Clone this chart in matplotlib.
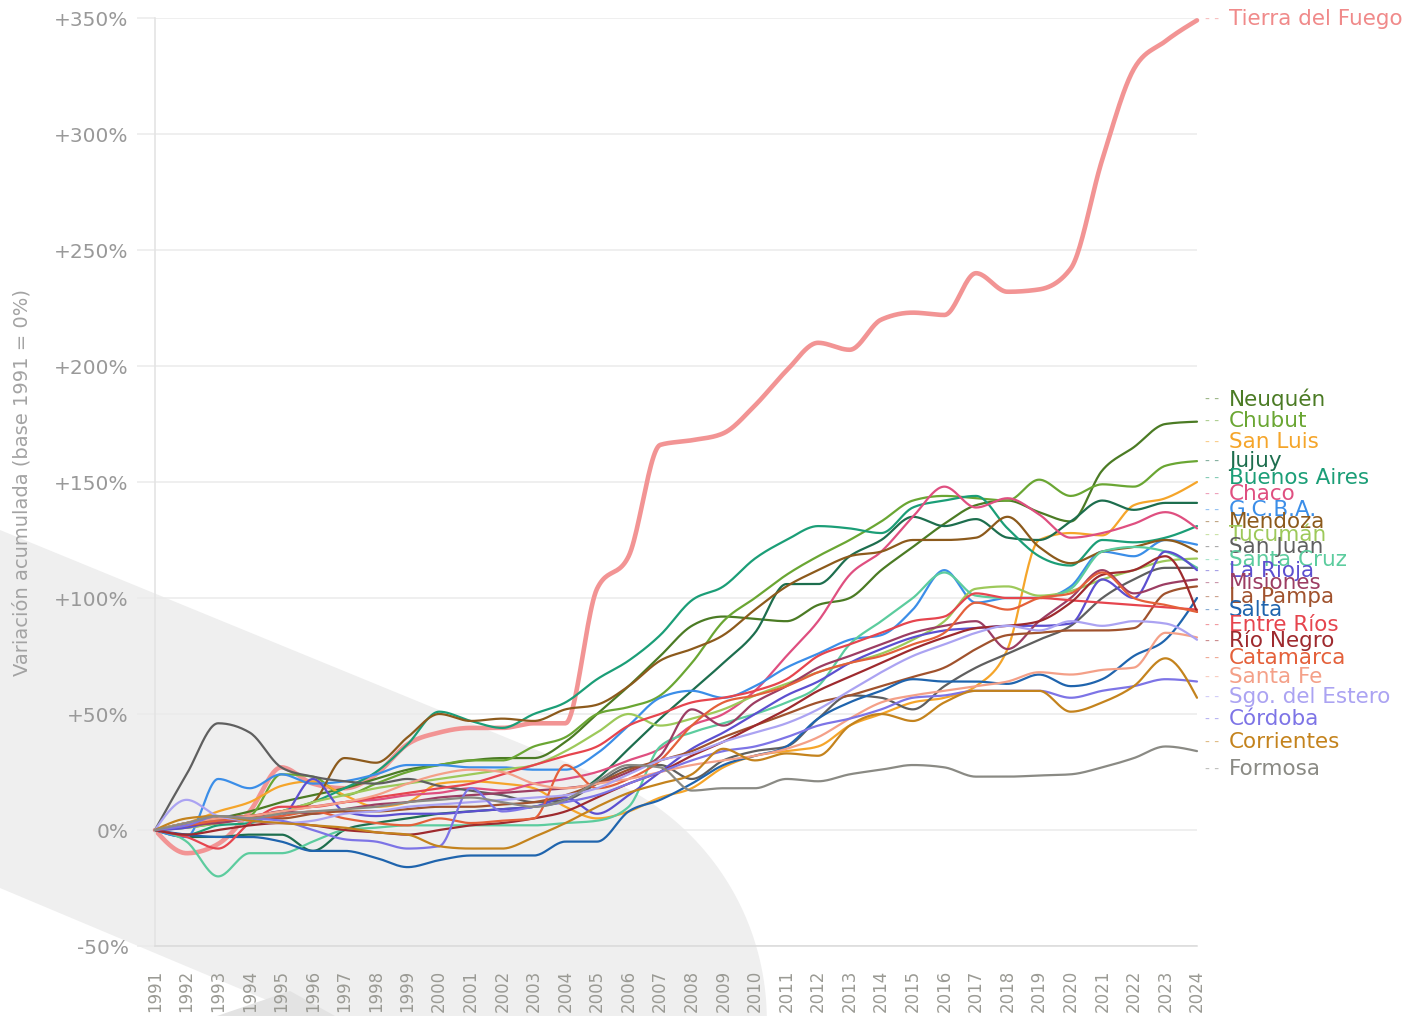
import numpy as np
import matplotlib.pyplot as plt
from matplotlib.patches import Polygon
from matplotlib.transforms import blended_transform_factory

years = list(range(1991, 2025))

# cumulative variation (%), base 1991 = 0
tierra_del_fuego = [0, -10, -6, 8, 27, 20, 18, 24, 37, 42, 44, 44, 46, 46, 104, 118, 166,
                    168, 171, 183, 198, 210, 207, 220, 223, 222, 240, 232, 233, 242, 289, 328, 340, 349]
neuquen = [0, 3, 5, 8, 12, 15, 18, 22, 26, 28, 30, 31, 31, 38, 50, 62, 75,
           88, 92, 91, 90, 97, 100, 112, 122, 132, 140, 142, 137, 133, 155, 165, 175, 176]
chubut = [0, 1, 3, 6, 24, 23, 15, 20, 25, 28, 30, 30, 36, 40, 50, 53, 58,
          72, 90, 100, 110, 118, 125, 133, 142, 144, 143, 142, 151, 144, 149, 148, 157, 159]
san_luis = [0, 3, 8, 12, 19, 21, 15, 10, 12, 20, 21, 20, 18, 10, 5, 8, 14,
            18, 27, 32, 34, 36, 45, 50, 55, 57, 62, 78, 125, 128, 127, 140, 143, 150]
jujuy = [0, -3, -3, -2, -2, -9, 0, 3, 5, 7, 8, 9, 10, 13, 22, 35, 48,
         60, 72, 85, 106, 106, 118, 125, 135, 131, 134, 126, 125, 133, 142, 138, 141, 141]
buenos_aires = [0, -2, 2, 3, 8, 12, 18, 25, 37, 51, 47, 44, 50, 55, 65, 73, 84,
                99, 105, 117, 125, 131, 130, 128, 139, 142, 144, 130, 118, 114, 125, 124, 126, 131]
chaco = [0, 2, 4, 6, 8, 10, 12, 13, 15, 16, 18, 17, 20, 22, 25, 30, 35,
         45, 50, 60, 75, 90, 110, 120, 135, 148, 139, 143, 136, 126, 128, 132, 137, 130]
gcba = [0, -3, 22, 18, 24, 20, 21, 24, 28, 28, 27, 27, 26, 26, 33, 45, 57,
        60, 57, 62, 70, 76, 82, 84, 95, 112, 98, 100, 100, 105, 120, 118, 125, 123]
mendoza = [0, 2, 5, 6, 8, 12, 31, 29, 40, 50, 47, 48, 47, 52, 54, 62, 73,
           78, 84, 95, 105, 112, 118, 120, 125, 125, 126, 135, 122, 115, 120, 122, 125, 120]
tucuman = [0, 1, 3, 5, 8, 12, 15, 18, 20, 22, 24, 26, 28, 34, 42, 50, 45,
           48, 52, 58, 63, 68, 72, 76, 82, 90, 104, 105, 101, 103, 108, 112, 116, 117]
san_juan = [0, 24, 46, 42, 27, 23, 21, 20, 22, 19, 17, 15, 12, 13, 20, 27, 28,
            22, 30, 34, 36, 48, 58, 57, 52, 62, 70, 76, 82, 88, 100, 108, 113, 113]
santa_cruz = [0, -5, -20, -10, -10, -5, 0, 1, 2, 2, 2, 2, 2, 3, 4, 10, 36,
              42, 46, 50, 55, 62, 80, 90, 100, 111, 101, 100, 100, 104, 120, 122, 120, 113]
la_rioja = [0, 1, 4, 5, 6, 22, 8, 6, 7, 7, 8, 9, 10, 14, 7, 15, 25,
            35, 42, 50, 58, 64, 72, 78, 83, 86, 87, 88, 88, 89, 108, 100, 120, 112]
misiones = [0, 2, 3, 5, 8, 7, 9, 11, 12, 14, 15, 16, 17, 18, 20, 25, 32,
            52, 45, 55, 62, 70, 75, 80, 85, 88, 90, 78, 90, 100, 112, 102, 106, 108]
la_pampa = [0, 3, 5, 6, 5, 7, 8, 8, 9, 10, 10, 11, 12, 15, 20, 26, 30,
            34, 40, 45, 50, 55, 58, 62, 66, 70, 78, 84, 85, 86, 86, 87, 102, 105]
salta = [0, -2, -3, -3, -5, -9, -9, -12, -16, -13, -11, -11, -11, -5, -5, 8, 13,
         20, 28, 32, 36, 48, 55, 60, 65, 64, 64, 63, 67, 62, 65, 75, 82, 100]
entre_rios = [0, -3, -8, 3, 10, 10, 12, 14, 16, 18, 20, 24, 28, 32, 36, 45, 50,
              55, 57, 60, 65, 75, 80, 85, 90, 92, 102, 100, 100, 99, 98, 97, 96, 95]
rio_negro = [0, -2, 0, 2, 3, 2, 0, -1, -2, 0, 2, 3, 5, 8, 14, 20, 25,
             32, 38, 45, 52, 60, 66, 72, 78, 83, 87, 88, 90, 98, 110, 112, 118, 94]
catamarca = [0, 2, 4, 5, 6, 8, 5, 3, 2, 5, 3, 4, 5, 28, 18, 22, 30,
             45, 55, 58, 62, 68, 72, 75, 80, 85, 98, 95, 100, 102, 111, 100, 97, 94]
santa_fe = [0, 3, 5, 6, 8, 10, 12, 15, 20, 24, 26, 25, 20, 18, 20, 22, 25,
            28, 30, 32, 35, 40, 48, 55, 58, 60, 62, 64, 68, 67, 69, 70, 85, 83]
sgo_del_estero = [0, 13, 6, 4, 3, 4, 7, 8, 10, 11, 12, 13, 14, 15, 18, 24, 30,
                  33, 38, 42, 46, 52, 60, 68, 75, 80, 85, 88, 86, 90, 88, 90, 89, 82]
cordoba = [0, 2, 6, 5, 4, 0, -4, -5, -8, -7, 18, 8, 10, 12, 15, 20, 25,
           30, 34, 36, 40, 45, 48, 52, 57, 58, 60, 60, 60, 57, 60, 62, 65, 64]
corrientes = [0, 5, 6, 4, 3, 2, 1, -1, -2, -7, -8, -8, -3, 3, 10, 16, 20,
              24, 35, 30, 33, 32, 45, 50, 47, 55, 60, 60, 60, 51, 55, 62, 74, 57]
formosa = [0, 3, 6, 5, 7, 8, 9, 10, 12, 13, 14, 12, 10, 13, 21, 28, 27,
           17, 18, 18, 22, 21, 24, 26, 28, 27, 23, 23, 23.5, 24, 27, 31, 36, 34]

series = [
    ("Neuquén", neuquen, "#4b7b24", 185.8),
    ("Chubut", chubut, "#6aa633", 176.3),
    ("San Luis", san_luis, "#f5a52a", 167.2),
    ("Jujuy", jujuy, "#1d6e4e", 159.0),
    ("Buenos Aires", buenos_aires, "#1b9e77", 151.7),
    ("Chaco", chaco, "#df4f80", 144.8),
    ("G.C.B.A.", gcba, "#3b8ee8", 137.9),
    ("Mendoza", mendoza, "#8c5a1c", 132.8),
    ("Tucumán", tucuman, "#9dc95a", 127.2),
    ("San Juan", san_juan, "#5f5f5f", 122.0),
    ("Santa Cruz", santa_cruz, "#5ccc9e", 116.4),
    ("La Rioja", la_rioja, "#5c4fd0", 111.6),
    ("Misiones", misiones, "#9c3d63", 106.5),
    ("La Pampa", la_pampa, "#a0522d", 100.4),
    ("Salta", salta, "#1f64ad", 94.8),
    ("Entre Ríos", entre_rios, "#e6454e", 88.4),
    ("Río Negro", rio_negro, "#9e2a2e", 81.5),
    ("Catamarca", catamarca, "#e4603a", 74.1),
    ("Santa Fe", santa_fe, "#f4a088", 65.9),
    ("Sgo. del Estero", sgo_del_estero, "#aba3f2", 57.3),
    ("Córdoba", cordoba, "#7d74e6", 47.8),
    ("Corrientes", corrientes, "#c4831d", 37.9),
    ("Formosa", formosa, "#8a8a84", 26.3),
]


def monotone_curve(x, y, n=24):
    # monotone cubic (d3 curveMonotoneX style)
    x = np.asarray(x, float)
    y = np.asarray(y, float)
    h = np.diff(x)
    s = np.diff(y) / h
    sg = lambda v: -1.0 if v < 0 else 1.0
    m = np.zeros_like(y)
    for i in range(1, len(y) - 1):
        p = (s[i - 1] * h[i] + s[i] * h[i - 1]) / (h[i - 1] + h[i])
        m[i] = (sg(s[i - 1]) + sg(s[i])) * min(abs(s[i - 1]), abs(s[i]), 0.5 * abs(p))
    m[0] = (3 * s[0] - m[1]) / 2
    m[-1] = (3 * s[-1] - m[-2]) / 2
    t = np.linspace(0, 1, n, endpoint=False)
    h00 = 2 * t**3 - 3 * t**2 + 1
    h10 = t**3 - 2 * t**2 + t
    h01 = -2 * t**3 + 3 * t**2
    h11 = t**3 - t**2
    xs, ys = [], []
    for i in range(len(h)):
        xs.append(x[i] + t * h[i])
        ys.append(h00 * y[i] + h10 * h[i] * m[i] + h01 * y[i + 1] + h11 * h[i] * m[i + 1])
    xs.append([x[-1]])
    ys.append([y[-1]])
    return np.concatenate(xs), np.concatenate(ys)


fig = plt.figure(figsize=(14.1, 10.16), dpi=100)

# background watermark shapes (pixel space)
bg = fig.add_axes([0, 0, 1, 1], zorder=0)
bg.set_xlim(0, 1410)
bg.set_ylim(1016, 0)
bg.axis('off')
a, c0 = 0.41, 530.0
cx, cy = 505.0, 1020.0
dist = (a * cx - cy + c0)
r = abs(dist) / np.hypot(a, 1)
tx = cx - dist * a / (a * a + 1)
ty = cy + dist / (a * a + 1)
th0 = np.arctan2(ty - cy, tx - cx)
th = np.linspace(th0, np.radians(8), 80)
arc = np.column_stack([cx + r * np.cos(th), cy + r * np.sin(th)])
pts = np.vstack([[[0, c0]], arc, [[0, 1060]]])
bg.add_patch(Polygon(pts, closed=True, fc='#efefef', ec='none'))
bg.add_patch(Polygon([[0, 888], [420, 888 + 0.42 * 420], [0, 1100]], closed=True, fc='white', ec='none'))
bg.add_patch(Polygon([[217, 1016], [290, 991], [335, 1016]], closed=True, fc='#e3e3e3', ec='none'))

ax = fig.add_axes([155 / 1410, 70 / 1016, 1042 / 1410, 928 / 1016], zorder=1)
ax.patch.set_alpha(0)
ax.set_xlim(1991, 2024)
ax.set_ylim(-50, 350)

ax.grid(axis='y', color='#ebebeb', lw=1.1)
ax.set_axisbelow(True)
for sp in ['top', 'right']:
    ax.spines[sp].set_visible(False)
ax.spines['left'].set_color('#e2e2e2')
ax.spines['left'].set_linewidth(1.1)
ax.spines['bottom'].set_color('#dadada')
ax.spines['bottom'].set_linewidth(1.1)

yt = list(range(-50, 351, 50))
ax.set_yticks(yt)
ax.set_yticklabels([("+%d%%" % v) if v > 0 else ("%d%%" % v) for v in yt])
ax.tick_params(axis='y', length=13, width=1.1, color='#ebebeb', pad=6,
               labelsize=14.5, labelcolor='#999999')
ax.set_xticks(years)
ax.set_xticklabels([str(y) for y in years], rotation=90)
ax.tick_params(axis='x', length=0, pad=17, labelsize=12, labelcolor='#9a9a94')

fig.text(22 / 1410, 1 - 483 / 1016, 'Variación acumulada (base 1991 = 0%)',
         rotation=90, ha='center', va='center', fontsize=14, color='#a3a3a3')

xs, ys = monotone_curve(years, tierra_del_fuego)
ax.plot(xs, ys, color='#f29494', lw=3.3, solid_capstyle='round', clip_on=False, zorder=2)
for name, vals, col, ly in series:
    xs, ys = monotone_curve(years, vals)
    ax.plot(xs, ys, color=col, lw=1.6, solid_capstyle='round', clip_on=False, zorder=3)

trans = blended_transform_factory(ax.transAxes, ax.transData)
labels = [("Tierra del Fuego", "#f08a8a", 349.6)] + [(n, c, ly) for n, v, c, ly in series]
for name, col, ly in labels:
    ax.text(1.0077, ly, '- -', transform=trans, color=col, alpha=0.55, fontsize=10,
            va='center', ha='left', clip_on=False)
    ax.text(1.0307, ly, name, transform=trans, color=col, fontsize=15.5,
            va='center', ha='left', clip_on=False)

fig.savefig('out.png', dpi=100)
